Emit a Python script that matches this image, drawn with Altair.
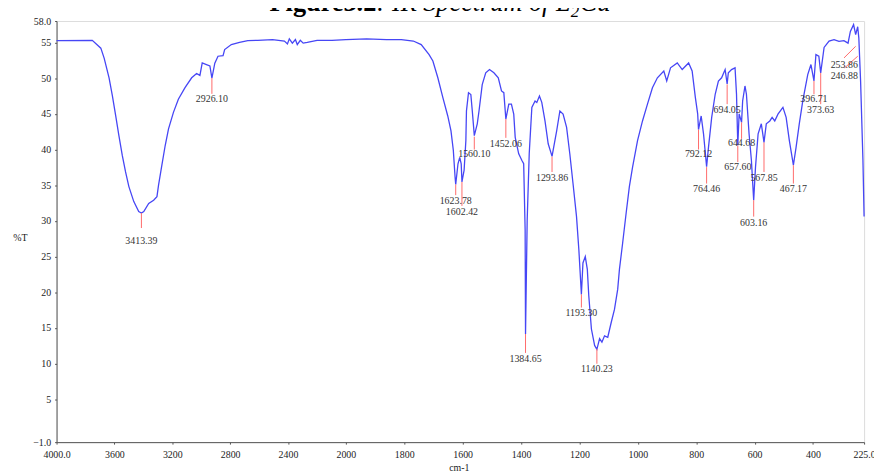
import altair as alt
import pandas as pd

# ---------------- spectrum (wavenumber cm-1, %T) ----------------
wn_a = [4000, 3753, 3694, 3671, 3637, 3614, 3591, 3569, 3546, 3523,
        3500, 3466, 3432, 3413.39, 3397, 3363, 3329, 3306, 3295, 3272,
        3249, 3226, 3192, 3158, 3112, 3066, 3032, 3009, 2993, 2964,
        2940, 2926.1, 2906, 2884, 2849, 2838, 2792, 2735, 2678]
t_a = [55.25, 55.3, 54.2, 52.8, 50.05, 47.5, 44.7, 41.95, 39.2, 36.85,
       34.8, 32.7, 31.3, 31.1, 31.3, 32.45, 32.9, 33.4, 35.0, 37.8,
       40.56, 42.9, 45.2, 47.05, 48.66, 50.05, 50.66, 50.38, 52.13, 51.9,
       51.7, 50.0, 52.1, 53.07, 53.16, 54.0, 54.7, 55.0, 55.25]

wn_b = [2610, 2507, 2425, 2404, 2391, 2370, 2349, 2336, 2315, 2295,
        2267, 2199, 2096, 2000, 1929, 1861, 1810, 1769, 1742, 1715,
        1702, 1685, 1668, 1651, 1640, 1632, 1626, 1623.78, 1616, 1610,
        1605, 1602.42, 1595, 1589, 1587, 1580, 1572, 1567, 1560.1, 1550,
        1544, 1533, 1521, 1508, 1493, 1478, 1467, 1459, 1452.06, 1442,
        1433, 1425, 1420, 1408, 1397, 1391, 1386, 1384.65, 1379, 1372]
t_b = [55.3, 55.4, 55.2, 54.8, 55.5, 54.9, 55.4, 54.7, 55.3, 54.9,
       55.0, 55.3, 55.3, 55.4, 55.5, 55.4, 55.4, 55.2, 54.7, 53.3,
       52.4, 50.05, 47.3, 44.7, 42.6, 39.9, 36.15, 35.1, 38.0, 38.9,
       38.0, 35.45, 37.1, 41.25, 45.4, 47.96, 47.7, 45.4, 41.95, 43.6,
       45.4, 49.1, 50.75, 51.2, 50.75, 50.05, 48.2, 47.96, 44.27, 46.35,
       46.35, 44.96, 41.7, 39.4, 38.47, 38.0, 28.75, 14.15, 30.1, 39.4]

wn_c = [1363, 1352, 1346, 1337, 1329, 1318, 1307, 1298, 1293.86, 1278,
        1267, 1256, 1244, 1233, 1222, 1210, 1202, 1193.3, 1188, 1180,
        1173, 1168, 1159, 1148, 1140.23, 1131, 1123, 1114, 1103, 1091,
        1080, 1069, 1063, 1052, 1040, 1029, 1018, 1001, 984, 967,
        950, 933, 911, 901, 888, 865, 848, 826, 814, 803]
t_c = [45.9, 46.8, 46.6, 47.5, 46.6, 44.0, 40.8, 39.6, 39.05, 42.6,
       45.4, 44.96, 43.1, 39.4, 35.23, 30.6, 25.96, 19.7, 24.1, 25.0,
       23.2, 19.5, 14.85, 12.55, 12.0, 13.5, 13.0, 13.9, 13.7, 15.8,
       17.6, 20.4, 23.2, 26.9, 31.1, 34.8, 37.54, 41.25, 44.0, 46.35,
       48.66, 50.05, 51.0, 49.6, 51.44, 52.13, 51.2, 52.13, 51.0, 47.3]

wn_d = [795, 792.12, 783, 775, 764.46, 758, 747, 735, 724, 713,
        701, 694.05, 690, 679, 667, 662, 657.6, 653, 644.68, 641,
        633, 628, 619, 611, 603.16, 597, 588, 577, 567.85, 560,
        548, 540, 531, 520, 503, 492, 481, 467.17, 458, 447,
        435, 418, 407, 396.71, 390, 380, 373.63, 362, 345, 328,
        311, 294, 280, 272, 261, 253.86, 246.88, 243, 237, 229, 225]
t_d = [45.0, 42.8, 44.7, 42.2, 37.6, 40.3, 44.5, 47.74, 49.6, 50.05,
       51.2, 49.2, 50.75, 51.2, 51.44, 47.74, 40.6, 45.0, 43.8, 46.8,
       48.9, 47.74, 42.2, 38.5, 32.9, 37.5, 42.2, 43.6, 41.0, 43.6,
       44.0, 44.5, 44.0, 44.96, 45.9, 44.5, 41.25, 37.8, 40.3, 43.6,
       46.8, 50.5, 51.9, 49.6, 53.3, 53.07, 50.74, 54.3, 55.2, 55.4,
       55.15, 55.25, 54.9, 56.55, 57.5, 56.1, 57.2, 55.6, 49.6, 38.6, 30.6]

wavenumber = wn_a + wn_b + wn_c + wn_d
transmittance = t_a + t_b + t_c + t_d
assert len(wavenumber) == len(transmittance)

# ---------------- peak annotations ----------------
peak_names = ["3413.39", "2926.10", "1623.78", "1602.42", "1560.10", "1452.06",
              "1384.65", "1293.86", "1193.30", "1140.23", "792.12", "764.46",
              "694.05", "657.60", "644.68", "603.16", "567.85", "467.17",
              "396.71", "373.63", "253.86", "246.88"]
peak_wn = [3413.39, 2926.10, 1623.78, 1602.42, 1560.10, 1452.06,
           1384.65, 1293.86, 1193.30, 1140.23, 792.12, 764.46,
           694.05, 657.60, 644.68, 603.16, 567.85, 467.17,
           396.71, 373.63, 253.86, 246.88]
peak_wn_end = [3413.39, 2926.10, 1623.78, 1602.42, 1560.10, 1452.06,
               1384.65, 1293.86, 1193.30, 1140.23, 792.12, 764.46,
               694.05, 657.60, 644.68, 603.16, 567.85, 467.17,
               396.71, 373.63, 293.8, 291.7]
peak_top = [31.1, 50.0, 35.1, 35.45, 41.8, 44.27, 14.15, 39.0, 19.7, 12.06,
            42.78, 37.54, 49.13, 40.56, 43.8, 32.9, 41.0, 37.8, 49.6, 50.74,
            54.46, 53.07]
peak_bottom = [29.0, 47.8, 33.6, 32.1, 40.0, 41.63, 11.5, 36.85, 17.86, 9.98,
               40.0, 35.23, 46.35, 38.24, 41.49, 30.6, 36.85, 35.23, 47.74, 46.35,
               52.83, 51.44]
label_wn = [3413.39, 2926.10, 1623.78, 1602.42, 1560.10, 1452.06,
            1384.65, 1293.86, 1193.30, 1140.23, 792.12, 764.46,
            694.05, 657.60, 644.68, 603.16, 567.85, 467.17,
            396.71, 373.63, 293.0, 293.0]
label_t = [27.2, 47.1, 32.8, 31.3, 39.3, 40.8, 10.7, 36.0, 17.07, 9.19,
           39.3, 34.5, 45.5, 37.54, 40.9, 29.7, 36.0, 34.5, 47.13, 45.5,
           51.77, 50.29]

x_ticks = [4000, 3600, 3200, 2800, 2400, 2000, 1800, 1600, 1400, 1200,
           1000, 800, 600, 400, 225]
y_ticks = [-1, 5, 10, 15, 20, 25, 30, 35, 40, 45, 50, 55, 58]

title_parts = ["Figure3.2", ": IR Spectrum of L", "2", " Cu"]

spec = pd.DataFrame({"wn": wavenumber, "T": transmittance})
peaks = pd.DataFrame({"name": peak_names, "wn": peak_wn, "wn2": peak_wn_end,
                      "top": peak_top, "bottom": peak_bottom,
                      "lwn": label_wn, "lt": label_t})

FONT = "Liberation Serif"
W, H = 815, 425

x_scale = alt.Scale(domain=[4000, 2000, 225], range=[0, 292, W], nice=False, zero=False)
y_scale = alt.Scale(domain=[-1, 58], nice=False, zero=False)

x_axis = alt.Axis(
    values=x_ticks,
    labelExpr="datum.value == 4000 || datum.value == 225 ? format(datum.value, '.1f') : format(datum.value, 'd')",
    title="cm-1", titleFont=FONT, titleFontSize=10, titleFontWeight="normal",
    titleColor="#222", titleX=406, titleY=21, titleBaseline="top", titleAlign="center",
    grid=False, tickSize=2, labelPadding=5, domainColor="#555", tickColor="#555",
    labelFont=FONT, labelFontSize=10, labelColor="#222", labelFlush=False,
    labelOverlap=False,
)
y_axis = alt.Axis(
    values=y_ticks,
    labelExpr="datum.value == -1 || datum.value == 58 ? format(datum.value, '.1f') : format(datum.value, 'd')",
    title="%T", titleFont=FONT, titleFontSize=10, titleFontWeight="normal",
    titleColor="#222", titleAngle=0, titleX=-37, titleY=219, titleAlign="center",
    titleBaseline="middle",
    grid=False, tickSize=2, labelPadding=4, domainColor="#555", tickColor="#555",
    labelFont=FONT, labelFontSize=10, labelColor="#222", labelOverlap=False,
    labelFlush=False,
)

line = alt.Chart(spec).mark_line(color="#4646f5", strokeWidth=1.3).encode(
    x=alt.X("wn:Q", scale=x_scale, axis=x_axis),
    y=alt.Y("T:Q", scale=y_scale, axis=y_axis),
)

rules = alt.Chart(peaks).mark_rule(color="#ff6a6a", strokeWidth=1).encode(
    x=alt.X("wn:Q", scale=x_scale, axis=x_axis),
    x2="wn2:Q",
    y=alt.Y("top:Q", scale=y_scale, axis=y_axis),
    y2="bottom:Q",
)

labels = alt.Chart(peaks).mark_text(
    font=FONT, fontSize=10, color="#333", baseline="middle", align="center"
).encode(
    x=alt.X("lwn:Q", scale=x_scale, axis=x_axis),
    y=alt.Y("lt:Q", scale=y_scale, axis=y_axis),
    text="name:N",
)

def title_piece(i, xpos, ypos, size, weight="normal", style="normal"):
    return alt.Chart(pd.DataFrame({"t": [title_parts[i]]})).mark_text(
        font=FONT, fontSize=size, fontWeight=weight, fontStyle=style,
        color="#000", align="left", baseline="alphabetic"
    ).encode(text="t:N", x=alt.value(xpos), y=alt.value(ypos))

t1 = title_piece(0, 215, -10, 26.5, weight="bold")
t2 = title_piece(1, 323, -10, 26.5, style="italic")
t3 = title_piece(2, 519, -4, 17, style="italic")
t4 = title_piece(3, 528, -10, 26.5, style="italic")

chart = alt.layer(line, rules, labels, t1, t2, t3, t4).properties(
    width=W, height=H,
    autosize=alt.AutoSizeParams(type="none"),
    padding={"left": 49, "top": 11, "right": 10, "bottom": 30},
).configure_view(stroke=None).configure(background="white")

chart.save("out.html", embed_options={"renderer": "svg", "actions": False})
